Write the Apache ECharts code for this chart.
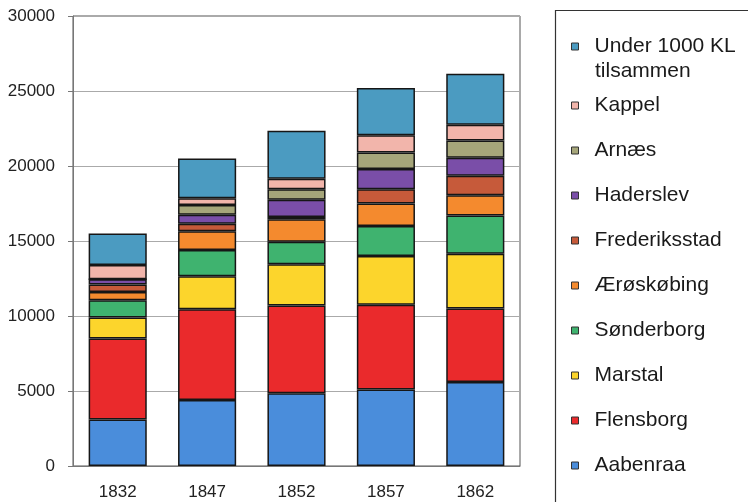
<!DOCTYPE html>
<html>
<head>
<meta charset="utf-8">
<script src="https://cdn.jsdelivr.net/npm/echarts@6/dist/echarts.min.js"></script>
<style>
  html, body { margin: 0; padding: 0; background: #fff; }
  #chart { width: 748px; height: 502px; }
</style>
</head>
<body>
<div id="chart"></div>
<script>
// årstal
var years = ['1832', '1847', '1852', '1857', '1862'];

// kommerce-læster pr. by (aflæst fra figuren)
var aabenraa      = [3100, 4400, 4850, 5100, 5600];
var flensborg     = [5400, 6050, 5850, 5650, 4900];
var marstal       = [1400, 2200, 2750, 3250, 3650];
var sonderborg    = [1150, 1750, 1500, 2000, 2550];
var aeroskobing   = [550, 1250, 1500, 1500, 1350];
var frederiksstad = [500, 500, 150, 950, 1300];
var haderslev     = [350, 600, 1150, 1350, 1200];
var arnaes        = [0, 650, 700, 1100, 1150];
var kappel        = [950, 450, 700, 1150, 1050];
var under1000     = [2100, 2650, 3200, 3150, 3400];

var yTicks = [0, 5000, 10000, 15000, 20000, 25000, 30000];

var names = ['Aabenraa', 'Flensborg', 'Marstal', 'Sønderborg', 'Ærøskøbing',
  'Frederiksstad', 'Haderslev', 'Arnæs', 'Kappel', 'Under 1000 KL tilsammen'];
var values = [aabenraa, flensborg, marstal, sonderborg, aeroskobing,
  frederiksstad, haderslev, arnaes, kappel, under1000];
var colors = ['#4a8ddb', '#ea2a2c', '#fcd52c', '#3fb36f', '#f48a2e',
  '#c65a3a', '#7a4ea8', '#a6a67a', '#f2b5ab', '#4b9bc1'];

var series = [];
for (var i = 0; i < names.length; i++) {
    series.push({
        name: names[i],
        type: 'bar',
        stack: 'total',
        barWidth: '65%',
        data: values[i],
        itemStyle: {
            color: colors[i],
            borderColor: '#161616',
            borderWidth: 1.5
        }
    });
}

var legendOthers = names.slice(0, 9).reverse();
var fontFam = 'Liberation Sans, Arial, sans-serif';

// tekst med luft mellem ikon og navn
var legendText = {
    color: '#1a1a1a', fontSize: 21, lineHeight: 21,
    rich: { t: { fontSize: 21, color: '#1a1a1a', padding: [0, 0, 0, 11], fontFamily: fontFam } }
};

var myChart = echarts.init(document.getElementById('chart'), null, { renderer: 'canvas' });
var option = {
    animation: false,
    textStyle: { fontFamily: fontFam },
    grid: {
        left: 73, right: 228, top: 16, bottom: 36,
        show: true, borderColor: '#555', borderWidth: 1
    },
    xAxis: {
        type: 'category',
        data: years,
        axisLine: { lineStyle: { color: '#777' } },
        axisTick: { show: false },
        axisLabel: { color: '#222', fontSize: 17, margin: 18 }
    },
    yAxis: {
        type: 'value',
        min: 0, max: 30000, interval: 5000,
        axisLine: { show: true, lineStyle: { color: '#777' } },
        axisTick: { show: true, length: 5, lineStyle: { color: '#777' } },
        splitLine: { lineStyle: { color: '#aaa' } },
        axisLabel: {
            color: '#222', fontSize: 17, margin: 18,
            formatter: function (v) { return yTicks.indexOf(v) >= 0 ? String(v) : ''; }
        }
    },
    legend: [{
        data: ['Under 1000 KL tilsammen'],
        orient: 'vertical',
        left: 566, top: 31,
        itemWidth: 7, itemHeight: 7,
        icon: 'rect',
        itemStyle: { borderColor: '#333', borderWidth: 1 },
        formatter: function () { return '{t|Under 1000 KL}'; },
        textStyle: legendText,
        selectedMode: false
    }, {
        data: legendOthers,
        orient: 'vertical',
        left: 566, top: 90,
        itemGap: 24,
        itemWidth: 7, itemHeight: 7,
        icon: 'rect',
        itemStyle: { borderColor: '#333', borderWidth: 1 },
        formatter: function (name) { return '{t|' + name + '}'; },
        textStyle: legendText,
        selectedMode: false
    }],
    graphic: [{
        type: 'rect',
        shape: { x: 555.5, y: 10.5, width: 220, height: 520 },
        style: { fill: 'none', stroke: '#333', lineWidth: 1.2 }
    }, {
        type: 'text',
        left: 595, top: 61,
        style: { text: 'tilsammen', fontSize: 21, fill: '#1a1a1a', fontFamily: fontFam }
    }],
    series: series
};
myChart.setOption(option);
</script>
</body>
</html>
